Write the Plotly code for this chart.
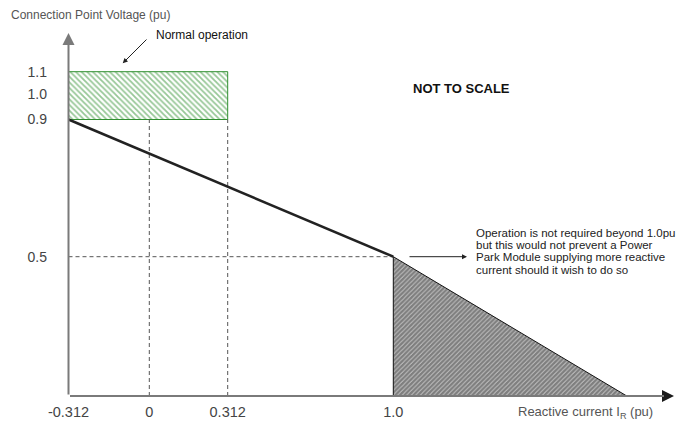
import numpy as np
import plotly.graph_objects as go

# ---- data (per-unit values) ----
x_tick_values = [-0.312, 0.0, 0.312, 1.0]
x_tick_labels = ["-0.312", "0", "0.312", "1.0"]
y_tick_values = [0.5, 0.9, 1.0, 1.1]
y_tick_labels = ["0.5", "0.9", "1.0", "1.1"]

droop_current = [-0.312, 1.0]
droop_voltage = [0.9, 0.5]

normal_current = [-0.312, 0.312]
normal_voltage = [0.9, 1.1]

beyond_current = [1.0, 1.0, 1.97]
beyond_voltage = [0.5, 0.0, 0.0]

guide_currents = [0.0, 0.312]

note_lines = [
    "Operation is not required beyond 1.0pu",
    "but this would not prevent a Power",
    "Park Module supplying more reactive",
    "current should it wish to do so",
]

# ---- "not to scale" axis mapping (value -> drawing position) ----
X_SCALE_VAL = [-0.312, 0.0, 0.312, 1.0]
X_SCALE_POS = [68.5, 149.3, 227.7, 393.3]
Y_SCALE_VAL = [0.0, 0.5, 0.9, 1.0, 1.1]
Y_SCALE_POS = [396.0, 256.7, 119.5, 94.0, 71.7]

L, R, T, B = 68, 3, 30, 29
W, H = 678, 425


def xm(v):
    v = np.asarray(v, dtype=float)
    out = np.interp(v, X_SCALE_VAL, X_SCALE_POS)
    slope = (X_SCALE_POS[-1] - X_SCALE_POS[-2]) / (X_SCALE_VAL[-1] - X_SCALE_VAL[-2])
    hi = v > X_SCALE_VAL[-1]
    out = np.where(hi, X_SCALE_POS[-1] + (v - X_SCALE_VAL[-1]) * slope, out)
    return out


def ym(v):
    return np.interp(np.asarray(v, dtype=float), Y_SCALE_VAL, Y_SCALE_POS)


def px(x):
    return (x - L) / (W - L - R)


def py(y):
    return (H - B - y) / (H - T - B)


FONT = "Liberation Sans, Arial, sans-serif"
fig = go.Figure()

# normal operation box (green hatched)
bx = [normal_current[0], normal_current[1], normal_current[1], normal_current[0], normal_current[0]]
by = [normal_voltage[0], normal_voltage[0], normal_voltage[1], normal_voltage[1], normal_voltage[0]]
fig.add_trace(go.Scatter(
    x=xm(bx), y=ym(by), mode="lines", fill="toself",
    line=dict(color="#2f8f2f", width=1),
    fillcolor="white",
    fillpattern=dict(shape="\\", fgcolor="#2f8f2f", bgcolor="white", size=4, solidity=0.45),
    hoverinfo="skip", showlegend=False))

# beyond 1.0pu region (black hatched triangle)
tx = beyond_current + [beyond_current[0]]
ty = beyond_voltage + [beyond_voltage[0]]
fig.add_trace(go.Scatter(
    x=xm(tx), y=ym(ty), mode="lines", fill="toself",
    line=dict(color="#111111", width=1),
    fillcolor="white",
    fillpattern=dict(shape="/", fgcolor="#000000", bgcolor="white", size=3.2, solidity=0.85),
    hoverinfo="skip", showlegend=False))

# dashed guides
fig.add_trace(go.Scatter(
    x=xm([droop_current[0], droop_current[1]]), y=ym([droop_voltage[1], droop_voltage[1]]),
    mode="lines", line=dict(color="#555555", width=1, dash="4px,3px"),
    hoverinfo="skip", showlegend=False))
for c in guide_currents:
    fig.add_trace(go.Scatter(
        x=xm([c, c]), y=ym([0.0, normal_voltage[0]]),
        mode="lines", line=dict(color="#555555", width=1, dash="4px,3px"),
        hoverinfo="skip", showlegend=False))

# droop characteristic
fig.add_trace(go.Scatter(
    x=xm(droop_current), y=ym(droop_voltage), mode="lines",
    line=dict(color="#222222", width=2.5),
    hoverinfo="skip", showlegend=False))

ann = []
# axes with arrows
ann.append(dict(x=68.5, y=33, ax=68.5, ay=396, xref="x", yref="y", axref="x", ayref="y",
                text="", showarrow=True, arrowhead=2, arrowsize=1.2, arrowwidth=2,
                arrowcolor="#7a7a7a", standoff=0, startstandoff=0))
ann.append(dict(x=674, y=396, ax=600, ay=396, xref="x", yref="y", axref="x", ayref="y",
                text="", showarrow=True, arrowhead=2, arrowsize=1.2, arrowwidth=2,
                arrowcolor="#1a1a1a", standoff=0, startstandoff=0))
ann.append(dict(x=664, y=396, ax=68.5, ay=396, xref="x", yref="y", axref="x", ayref="y",
                text="", showarrow=True, arrowhead=0, arrowwidth=2,
                arrowcolor="#7a7a7a", standoff=0, startstandoff=0))

# normal operation label + arrow
ann.append(dict(x=122.7, y=63.3, ax=148, ay=38, xref="x", yref="y", axref="x", ayref="y",
                text="", showarrow=True, arrowhead=2, arrowsize=1, arrowwidth=1,
                arrowcolor="#222222", standoff=0))
ann.append(dict(x=px(154), y=py(35), xref="paper", yref="paper", text="Normal operation",
                showarrow=False, xanchor="left", yanchor="middle",
                font=dict(family=FONT, size=12, color="#111111")))

# not to scale
ann.append(dict(x=px(411), y=py(89), xref="paper", yref="paper", text="<b>NOT TO SCALE</b>",
                showarrow=False, xanchor="left", yanchor="middle",
                font=dict(family=FONT, size=13, color="#111111")))

# beyond 1.0pu note + arrow
ann.append(dict(x=467, y=256.7, ax=408, ay=256.7, xref="x", yref="y", axref="x", ayref="y",
                text="", showarrow=True, arrowhead=2, arrowsize=1, arrowwidth=1,
                arrowcolor="#222222", standoff=0))
for i, line in enumerate(note_lines):
    ann.append(dict(x=px(474), y=py(233 + 12.2 * i), xref="paper", yref="paper",
                    text=line, showarrow=False, xanchor="left", yanchor="middle",
                    font=dict(family=FONT, size=11.5, color="#222222")))

# axis titles
ann.append(dict(x=px(9), y=py(15), xref="paper", yref="paper",
                text="Connection Point Voltage (pu)",
                showarrow=False, xanchor="left", yanchor="middle",
                font=dict(family=FONT, size=12, color="#555555")))
ann.append(dict(x=px(516), y=py(412), xref="paper", yref="paper",
                text="Reactive current I<sub>R</sub> (pu)",
                showarrow=False, xanchor="left", yanchor="middle",
                font=dict(family=FONT, size=13, color="#555555")))

fig.update_layout(
    width=W, height=H,
    margin=dict(l=L, r=R, t=T, b=B, autoexpand=False),
    paper_bgcolor="white", plot_bgcolor="white",
    annotations=ann,
    xaxis=dict(range=[68, 675], showgrid=False, zeroline=False, showline=False,
               automargin=False,
               tickvals=list(xm(x_tick_values)), ticktext=x_tick_labels,
               ticks="", ticklabelstandoff=5,
               tickfont=dict(family=FONT, size=14.5, color="#444444"), fixedrange=True),
    yaxis=dict(range=[396, 30], showgrid=False, zeroline=False, showline=False,
               automargin=False,
               tickvals=list(ym(y_tick_values)), ticktext=y_tick_labels,
               ticks="", ticklabelstandoff=20,
               tickfont=dict(family=FONT, size=14, color="#444444"), fixedrange=True),
)

fig.write_html("out.html", config={"displayModeBar": False},
               post_script="document.body.style.margin='0';document.body.style.padding='0';")
